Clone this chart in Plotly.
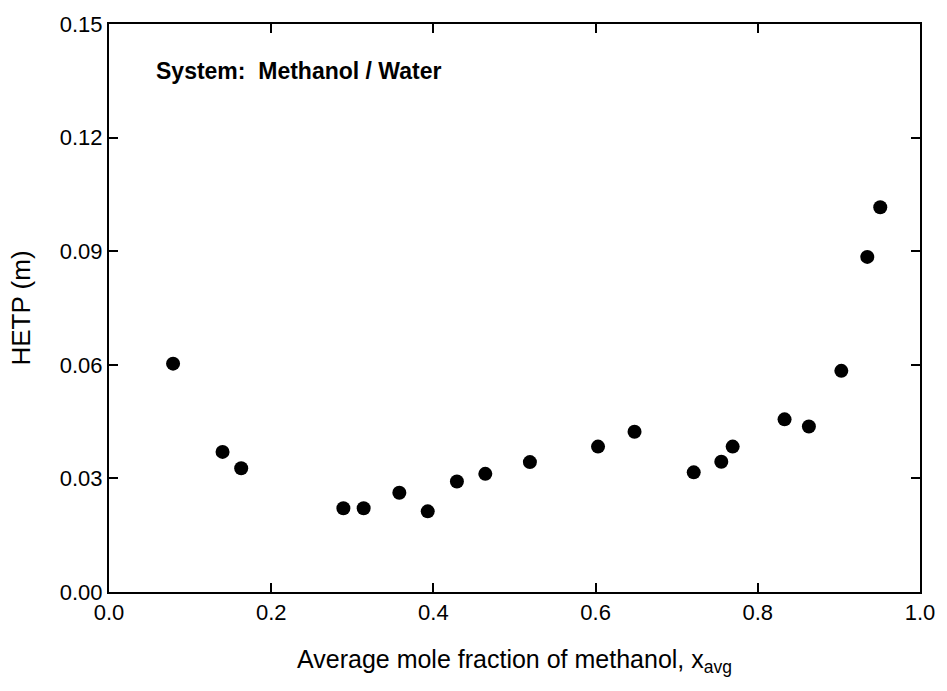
import plotly.graph_objects as go

x_avg = [0.079, 0.140, 0.163, 0.289, 0.314, 0.358, 0.393, 0.429, 0.464, 0.519,
         0.603, 0.648, 0.721, 0.755, 0.769, 0.833, 0.863, 0.903, 0.935, 0.951]
hetp = [0.0603, 0.0370, 0.0327, 0.0221, 0.0221, 0.0262, 0.0213, 0.0292, 0.0312, 0.0343,
        0.0384, 0.0423, 0.0316, 0.0344, 0.0384, 0.0456, 0.0437, 0.0584, 0.0885, 0.1016]

x_ticks = [0.0, 0.2, 0.4, 0.6, 0.8, 1.0]
x_ticklabels = ["0.0", "0.2", "0.4", "0.6", "0.8", "1.0"]
y_ticks = [0.00, 0.03, 0.06, 0.09, 0.12, 0.15]
y_ticklabels = ["0.00", "0.03", "0.06", "0.09", "0.12", "0.15"]

font = "Liberation Sans, Arial, sans-serif"

fig = go.Figure()
fig.add_trace(go.Scatter(
    x=x_avg, y=hetp, mode="markers",
    marker=dict(color="black", size=14, line=dict(width=0)),
    showlegend=False,
))

axis_common = dict(
    showline=True, linecolor="black", linewidth=2, mirror="ticks",
    ticks="inside", ticklen=9, tickwidth=1.5, tickcolor="black",
    showgrid=False, zeroline=False,
    tickfont=dict(family=font, size=22, color="black"),
)

fig.update_xaxes(range=[0, 1.0], tickvals=x_ticks, ticktext=x_ticklabels,
                 title=dict(text="Average mole fraction of methanol, x<sub>avg</sub>",
                            font=dict(family=font, size=25, color="black"), standoff=26),
                 **axis_common)
fig.update_yaxes(range=[0, 0.15], tickvals=y_ticks, ticktext=y_ticklabels,
                 title=dict(text="HETP (m)", font=dict(family=font, size=26, color="black"),
                            standoff=22),
                 **axis_common)

fig.add_annotation(
    x=0.056, y=0.918, xref="paper", yref="paper", xanchor="left", yanchor="middle",
    text="<b>System:  Methanol / Water</b>", showarrow=False,
    font=dict(family=font, size=23, color="black"),
)

fig.update_layout(
    width=947, height=691,
    margin=dict(l=109, r=17, t=17, b=99),
    paper_bgcolor="white", plot_bgcolor="white",
)

fig.write_html("out.html")
